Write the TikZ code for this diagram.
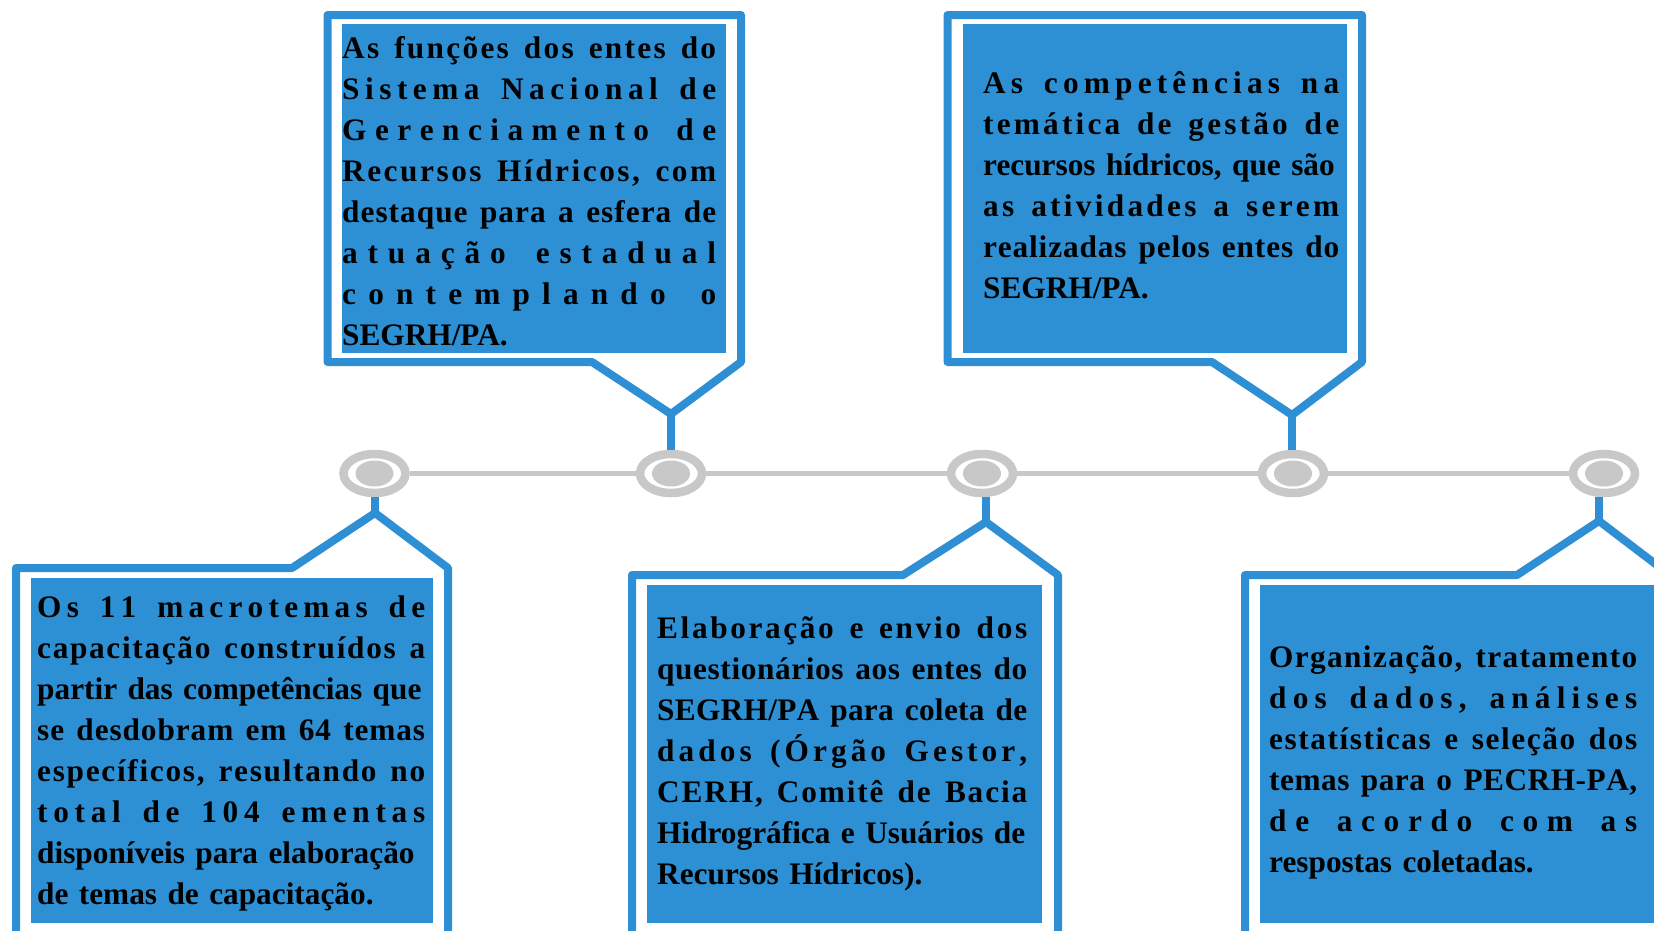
\documentclass[tikz,border=0pt]{standalone}
\usepackage{fontspec}
\setmainfont{Liberation Serif}
\usetikzlibrary{shapes.geometric}
\definecolor{frameblue}{HTML}{2E8FD4}
\definecolor{fillblue}{HTML}{2E90D4}
\definecolor{ringgray}{HTML}{C8C8C8}
\newcommand\gapfil{\hskip 0pt plus 1fil\relax}
\ExplSyntaxOn
\NewDocumentCommand\SL{m}{\leavevmode\hbox~to~\hsize{\str_map_inline:nn{#1}{##1\gapfil}\unskip}}
\ExplSyntaxOff
\newcommand\NL[1]{\leavevmode\hbox{#1}}
\tikzset{
  frame/.style={draw=frameblue, line width=8pt, line join=round, line cap=round},
  panel/.style={fill=fillblue},
  txt/.style={anchor=base west, inner sep=0pt, align=left, font=\fontsize{31.3}{41}\selectfont\bfseries},
  ring/.style={ellipse, draw=ringgray, fill=white, line width=8.5pt, inner sep=0pt, minimum width=62pt, minimum height=39pt},
  dot/.style={fill=ringgray},
  tl/.style={draw=ringgray, line width=5pt}
}
\begin{document}
\begin{tikzpicture}[x=1pt,y=-1pt]
\useasboundingbox (0,0) rectangle (1654,930);
\clip (0,0) rectangle (1654,930);
\fill[white] (0,0) rectangle (1654,930);

% blue panels
\fill[panel] (342,24) rectangle (726,353);
\fill[panel] (963,24) rectangle (1347,353);
\fill[panel] (31,578) rectangle (433,923);
\fill[panel] (647,585) rectangle (1042,923);
\fill[panel] (1260,585) rectangle (1660,923);

% circles on the timeline
\node[ring] (c1) at (374.5,473.5) {};
\node[ring] (c2) at (671,473.5) {};
\node[ring] (c3) at (982,473.5) {};
\node[ring] (c4) at (1293,473.5) {};
\node[ring] (c5) at (1604,473.5) {};
\foreach \c in {c1,c2,c3,c4,c5}{\fill[dot] (\c.center) ellipse [x radius=19, y radius=13];}

% timeline
\draw[tl] (c1) -- (c2);
\draw[tl] (c2) -- (c3);
\draw[tl] (c3) -- (c4);
\draw[tl] (c4) -- (c5);

% frames
\coordinate (tA) at (671,414);
\coordinate (tB) at (1292,415);
\coordinate (tC) at (375,513);
\coordinate (tD) at (986,522);
\coordinate (tE) at (1599,521);
\draw[frame] (327.5,15) -- (741,15) -- (741,362) -- (tA) -- (592,362) -- (327.5,362) -- cycle;
\draw[frame] (947.5,15) -- (1362,15) -- (1362,362) -- (tB) -- (1212,362) -- (947.5,362) -- cycle;
\draw[frame] (16,945) -- (16,568) -- (292,568) -- (tC) -- (448,568) -- (448,945);
\draw[frame] (632,945) -- (632,575) -- (903,575) -- (tD) -- (1058,575) -- (1058,945);
\draw[frame] (1245,945) -- (1245,575) -- (1517,575) -- (tE) -- (1670,575) -- (1670,945);

% stems
\draw[frame, line cap=butt] (tA) -- (tA |- c2.north);
\draw[frame, line cap=butt] (tB) -- (tB |- c4.north);
\draw[frame, line cap=butt] (tC) -- (tC |- c1.south);
\draw[frame, line cap=butt] (tD) -- (tD |- c3.south);
\draw[frame, line cap=butt] (tE) -- (tE |- c5.south);

% texts
\node[txt, text width=374pt] (ta) at (342,58) {%
\SL{As funções dos entes do}\\
\SL{Sistema Nacional de}\\
\SL{Gerenciamento de}\\
\SL{Recursos Hídricos, com}\\
\SL{destaque para a esfera de}\\
\SL{atuação estadual}\\
\SL{contemplando o}\\
\NL{SEGRH/PA.}};

\node[txt, text width=356pt] (tb) at (983,93) {%
\SL{As competências na}\\
\SL{temática de gestão de}\\
\NL{recursos hídricos, que são}\\
\SL{as atividades a serem}\\
\SL{realizadas pelos entes do}\\
\NL{SEGRH/PA.}};

\node[txt, text width=388pt] (tc) at (37,617) {%
\SL{Os 11 macrotemas de}\\
\SL{capacitação construídos a}\\
\NL{partir das competências que}\\
\SL{se desdobram em 64 temas}\\
\SL{específicos, resultando no}\\
\SL{total de 104 ementas}\\
\NL{disponíveis para elaboração}\\
\NL{de temas de capacitação.}};

\node[txt, text width=370pt] (td) at (657,638) {%
\SL{Elaboração e envio dos}\\
\SL{questionários aos entes do}\\
\SL{SEGRH/PA para coleta de}\\
\SL{dados (Órgão Gestor,}\\
\SL{CERH, Comitê de Bacia}\\
\NL{Hidrográfica e Usuários de}\\
\NL{Recursos Hídricos).}};

\node[txt, text width=368pt] (te) at (1269,667) {%
\SL{Organização, tratamento}\\
\SL{dos dados, análises}\\
\SL{estatísticas e seleção dos}\\
\SL{temas para o PECRH-PA,}\\
\SL{de acordo com as}\\
\NL{respostas coletadas.}};
\end{tikzpicture}
\end{document}
